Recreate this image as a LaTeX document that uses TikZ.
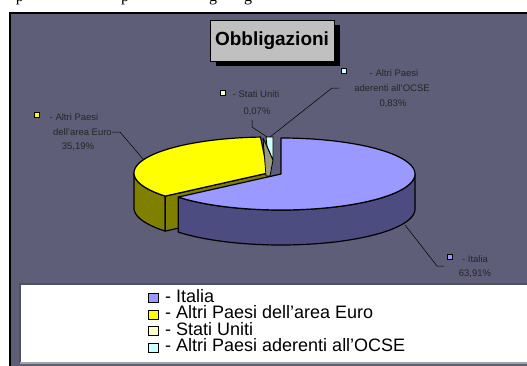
\documentclass[tikz,border=0pt]{standalone}
\usepackage{fontspec}
\setmainfont{Liberation Sans}
\newfontfamily\capserif{Liberation Serif}
\usetikzlibrary{shadows}

\definecolor{bgdark}{HTML}{5E5E78}
\definecolor{bglight}{HTML}{C6C6F2}
\definecolor{itatop}{HTML}{9999FF}
\definecolor{itaside}{HTML}{4C4C80}
\definecolor{eurtop}{HTML}{FFFF00}
\definecolor{eurside}{HTML}{808000}
\definecolor{ustop}{HTML}{FFFFCC}
\definecolor{ocsetop}{HTML}{CCFFFF}
\definecolor{slivgray}{HTML}{9A9A7E}
\definecolor{titlegray}{HTML}{C0C0C0}
\definecolor{legedge}{HTML}{505060}

\begin{document}
\begin{tikzpicture}[x=1pt,y=-1pt,
  slice/.style={draw=black,line width=1.2pt,line join=round},
  leader/.style={draw=black,line width=0.5pt},
  dlab/.style={font=\fontsize{9.5}{11}\selectfont,inner sep=0pt,text=black!85},
  mkey/.style={draw=black,line width=1pt,minimum size=5pt,inner sep=0pt},
  legkey/.style={draw=black,line width=0.8pt,minimum width=10pt,minimum height=9pt,inner sep=0pt},
  legtext/.style={font=\fontsize{18}{19}\selectfont,inner sep=0pt,anchor=base west},
  titlebox/.style={draw=black,line width=0.8pt,fill=titlegray,minimum width=124pt,minimum height=41pt,inner sep=0pt,
    font=\fontsize{19}{22}\selectfont\bfseries,general shadow={fill=black,shadow xshift=6pt,shadow yshift=-5pt}},
  cutglyph/.style={font=\capserif\fontsize{16}{18}\selectfont,inner sep=0pt,anchor=base}
]
\useasboundingbox (0,0) rectangle (527,365);

% caption line above the chart, cut by the page edge
\begin{scope}
  \clip (0,0) rectangle (527,9);
  \node[cutglyph] (cg1) at (20,1) {p};
  \node[cutglyph] (cg2) at (125,1) {p};
  \node[cutglyph] (cg3) at (213,1) {g};
  \node[cutglyph] (cg4) at (248,1) {g};
\end{scope}

% chart area with its vertical gradient
\shade[top color=bgdark,middle color=bglight,bottom color=bgdark] (10,13) rectangle (527,365);
\draw[line width=1.5pt] (527.5,13) -- (10,13) -- (10,365.5);

% pie geometry
\def\rx{134}\def\ry{36}\def\dep{35}
\def\ex{268}\def\ey{173}
\def\ix{281}\def\iy{174}

% Altri Paesi dell'area Euro: outer side, cut face, top
\path[slice,fill=eurside]
  plot[domain=230.1:270,samples=25,variable=\t] ({\ex+\rx*sin(\t)},{\ey-\ry*cos(\t)})
  -- plot[domain=270:230.1,samples=25,variable=\t] ({\ex+\rx*sin(\t)},{\ey+\dep-\ry*cos(\t)}) -- cycle;
\path[slice,fill=eurside] (\ex,\ey) -- ({\ex+\rx*sin(230.1)},{\ey-\ry*cos(230.1)})
  -- ({\ex+\rx*sin(230.1)},{\ey+\dep-\ry*cos(230.1)}) -- ({\ex},{\ey+\dep}) -- cycle;
\path[slice,fill=eurtop] (\ex,\ey)
  -- plot[domain=230.1:356.8,samples=80,variable=\t] ({\ex+\rx*sin(\t)},{\ey-\ry*cos(\t)}) -- cycle;

% Stati Uniti and Altri Paesi aderenti all'OCSE slivers
\path[slice,line width=0.8pt,fill=slivgray] (263,138) -- (273,160) -- (270,176) -- (266,176) -- cycle;
\path[slice,line width=0.8pt,fill=ocsetop] (266,137) -- (273,137) -- (273,160) -- (267,146) -- cycle;

% Italia (pulled out): outer side, top
\path[slice,fill=itaside]
  plot[domain=90:230.1,samples=60,variable=\t] ({\ix+\rx*sin(\t)},{\iy-\ry*cos(\t)})
  -- plot[domain=230.1:90,samples=60,variable=\t] ({\ix+\rx*sin(\t)},{\iy+\dep-\ry*cos(\t)}) -- cycle;
\path[slice,fill=itatop] (\ix,\iy)
  -- plot[domain=0:230.1,samples=120,variable=\t] ({\ix+\rx*sin(\t)},{\iy-\ry*cos(\t)}) -- cycle;

% title
\node[titlebox] (title) at (272,40.5) {Obbligazioni};

% data labels
\node[mkey,fill=eurtop] (keyeur) at (37,115) {};
\node[dlab] (eur1) at (74,117) {- Altri Paesi};
\node[dlab,anchor=east] (eur2) at (112,132) {dell'area Euro};
\node[dlab] (eur3) at (78,147) {35,19\%};
\coordinate (eurknee) at (120,132);
\coordinate (eurtip) at (143,159);
\draw[leader] (eur2.east) -- (eurknee) -- (eurtip);

\node[mkey,fill=ustop] (keyus) at (223,93) {};
\node[dlab] (us1) at (256,94) {- Stati Uniti};
\node[dlab] (us2) at (257,112) {0,07\%};
\coordinate (usstart) at (252,120);
\coordinate (usknee) at (252,127);
\coordinate (ustip) at (267,137);
\draw[leader] (usstart) -- (usknee) -- (ustip);

\node[mkey,fill=ocsetop] (keyocse) at (344,71) {};
\node[dlab] (oc1) at (394,73) {- Altri Paesi};
\node[dlab] (oc2) at (392,88) {aderenti all'OCSE};
\node[dlab] (oc3) at (393,104) {0,83\%};
\coordinate (ocstart) at (339,88);
\coordinate (ocknee) at (332,88);
\coordinate (octip) at (270,137);
\draw[leader] (ocstart) -- (ocknee) -- (octip);

\node[mkey,fill=itatop] (keyita) at (450,257) {};
\node[dlab] (it1) at (475,259) {- Italia};
\node[dlab] (it2) at (475,274) {63,91\%};
\coordinate (itstart) at (444,266);
\coordinate (itknee) at (437,266);
\coordinate (ittip) at (405,225);
\draw[leader] (itstart) -- (itknee) -- (ittip);

% legend
\fill[white] (20,284) rectangle (530,363);
\draw[line width=1.5pt,draw=legedge] (530,284) -- (20,284) -- (20,363);
\draw[line width=1.2pt,draw=gray!70] (20,363) -- (530,363);

\node[legkey,fill=itatop] (lk1) at (153,298) {};
\node[legtext] (lt1) at (165,302.3) {- Italia};
\node[legkey,fill=eurtop] (lk2) at (153,314.5) {};
\node[legtext] (lt2) at (165,318.8) {- Altri Paesi dell'area Euro};
\node[legkey,fill=ustop] (lk3) at (153,331) {};
\node[legtext] (lt3) at (165,335.3) {- Stati Uniti};
\node[legkey,fill=ocsetop] (lk4) at (153,347.5) {};
\node[legtext] (lt4) at (165,351.8) {- Altri Paesi aderenti all'OCSE};
\end{tikzpicture}
\end{document}
